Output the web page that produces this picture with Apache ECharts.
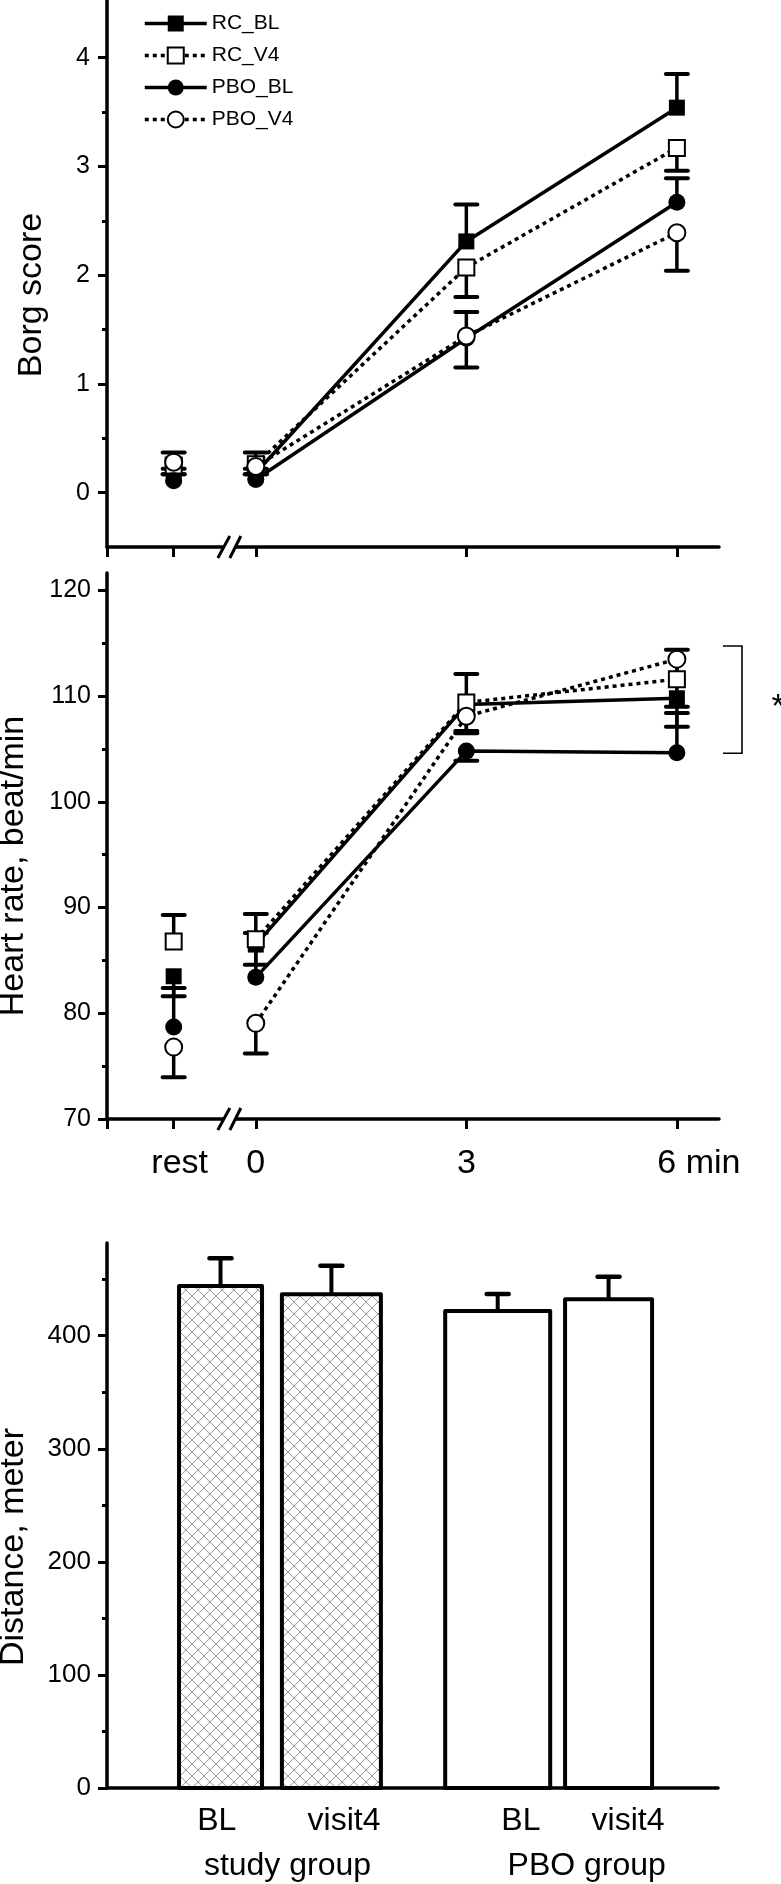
<!DOCTYPE html>
<html><head><meta charset="utf-8">
<script src="https://cdn.jsdelivr.net/npm/echarts@6/dist/echarts.min.js"></script>
<style>html,body{margin:0;padding:0;background:#fff}#c{width:781px;height:1884px}</style>
</head><body><div id="c"></div>
<script>
// ---------------- DATA ----------------
const seriesNames = ['RC_BL', 'RC_V4', 'PBO_BL', 'PBO_V4'];
const timeLabels = ['rest', '0', '3', '6 min'];
const timePos = [-1.17, 0, 3, 6];

const borgRC_BL  = [0.16, 0.18, 2.31, 3.54];
const borgRC_V4  = [0.25, 0.26, 2.07, 3.17];
const borgPBO_BL = [0.11, 0.12, 1.42, 2.67];
const borgPBO_V4 = [0.28, 0.24, 1.44, 2.39];
// signed error bars (+ up, - down)
const borgErrRC_BL  = [0.21, 0.19, 0.34, 0.31];
const borgErrRC_V4  = [-0.08, -0.09, -0.27, -0.21];
const borgErrPBO_BL = [0.11, 0.10, 0.24, 0.22];
const borgErrPBO_V4 = [-0.11, -0.07, -0.29, -0.35];

const hrRC_BL  = [83.5, 86.5, 109.2, 109.8];
const hrRC_V4  = [86.8, 87.0, 109.4, 111.6];
const hrPBO_BL = [78.7, 83.4, 104.8, 104.65];
const hrPBO_V4 = [76.8, 79.05, 108.1, 113.5];
const hrErrRC_BL  = [-1.9, -1.9, -2.5, -2.7];
const hrErrRC_V4  = [2.5, 2.4, 2.7, 2.8];
const hrErrPBO_BL = [3.7, 4.2, -0.9, 3.75];
const hrErrPBO_V4 = [-2.85, -2.85, -1.6, -4.5];

const borgTicks = [0, 1, 2, 3, 4];
const borgMinor = [0.5, 1.5, 2.5, 3.5];
const hrTicks = [70, 80, 90, 100, 110, 120];
const hrMinor = [75, 85, 95, 105, 115];

const barCategories = ['BL', 'visit4', 'BL', 'visit4'];
const barGroups = ['study group', 'PBO group'];
const distance = [444.0, 436.6, 421.9, 432.2];
const distanceErr = [24.5, 25.3, 15.0, 20.0];
const distTicks = [0, 100, 200, 300, 400];
const distMinor = [50, 150, 250, 350, 450];

// significance bracket (heart rate at 6 min)
const sigRange = [104.6, 114.75];
const sigLabel = '*';

// ---------------- LAYOUT / STYLE ----------------
const FONT = '"Liberation Sans", Arial, Helvetica, sans-serif';
const XMIN = -2.12, XMAX = 6.6;
const BREAK_X = -0.37;
const barPos = [1, 2, 3.5, 4.5];
const barLabelPos = [0.966, 2.114, 3.709, 4.675];
const groupLabelPos = [1.604, 4.303];
const BARXMIN = -0.024, BARXMAX = 5.487;
const barWidthsPx = [83, 99, 105, 87];
const barFill = ['hatch', 'hatch', 'white', 'white'];

const symStyle = {
  RC_BL:  {symbol: 'rect',   size: 16, fill: '#000', dash: 'solid'},
  RC_V4:  {symbol: 'rect',   size: 16, fill: '#fff', dash: [4, 4]},
  PBO_BL: {symbol: 'circle', size: 17, fill: '#000', dash: 'solid'},
  PBO_V4: {symbol: 'circle', size: 17, fill: '#fff', dash: [4, 4]}
};

function hatchCanvas() {
  const c = document.createElement('canvas'); c.width = 12; c.height = 12;
  const g = c.getContext('2d');
  g.fillStyle = '#fff'; g.fillRect(0, 0, 12, 12);
  g.strokeStyle = '#9a9a9a'; g.lineWidth = 1;
  g.beginPath(); g.moveTo(0, 0); g.lineTo(12, 12); g.moveTo(12, 0); g.lineTo(0, 12); g.stroke();
  return c;
}
const HATCH = hatchCanvas();

function errRender(params, api) {
  const x = api.value(0), y = api.value(1), e = api.value(2);
  const p0 = api.coord([x, y]), p1 = api.coord([x, y + e]);
  return {type: 'group', children: [
    {type: 'line', shape: {x1: p0[0], y1: p0[1], x2: p1[0], y2: p1[1]}, style: {stroke: '#000', lineWidth: 3.5}},
    {type: 'line', shape: {x1: p1[0] - 11, y1: p1[1], x2: p1[0] + 11, y2: p1[1]}, style: {stroke: '#000', lineWidth: 4, lineCap: 'round'}}
  ]};
}

function barRender(params, api) {
  const i = params.dataIndex;
  const x = api.value(0), y = api.value(1), e = api.value(2);
  const base = api.coord([x, 0]), top = api.coord([x, y]), et = api.coord([x, y + e]);
  const w = barWidthsPx[i];
  const fill = barFill[i] === 'hatch' ? {image: HATCH, repeat: 'repeat'} : '#fff';
  return {type: 'group', children: [
    {type: 'rect', shape: {x: base[0] - w / 2, y: top[1], width: w, height: base[1] - top[1]},
     style: {fill: fill, stroke: '#000', lineWidth: 4, lineJoin: 'round'}},
    {type: 'line', shape: {x1: top[0], y1: top[1], x2: et[0], y2: et[1]}, style: {stroke: '#000', lineWidth: 4}},
    {type: 'line', shape: {x1: et[0] - 11, y1: et[1], x2: et[0] + 11, y2: et[1]}, style: {stroke: '#000', lineWidth: 4.5, lineCap: 'round'}}
  ]};
}

const axisLineStyle = {show: true, onZero: false, lineStyle: {color: '#000', width: 3.5}};

function mainY(grid, min, max, ticks, fs, margin) {
  return {gridIndex: grid, type: 'value', min: min, max: max, position: 'left',
    axisLine: axisLineStyle,
    axisTick: {show: true, customValues: ticks, length: 9, lineStyle: {color: '#000', width: 3}},
    axisLabel: {show: true, customValues: ticks, fontSize: fs, color: '#000', fontFamily: FONT, margin: margin},
    splitLine: {show: false}};
}
function minorY(grid, min, max, ticks) {
  return {gridIndex: grid, type: 'value', min: min, max: max, position: 'left', offset: 0,
    axisLine: {show: false, onZero: false},
    axisTick: {show: true, customValues: ticks, length: 5, lineStyle: {color: '#000', width: 3}},
    axisLabel: {show: false}, splitLine: {show: false}};
}

function timeLabelFmt(v) {
  const i = timePos.indexOf(v);
  const t = i >= 0 ? timeLabels[i] : '';
  if (i === 3) return '{m|' + t + '}';
  if (i === 0) return '{r|' + t + '}';
  return t;
}

function mkLine(arr) {
  const d = timePos.map((x, i) => [x, arr[i]]);
  // rest point stands alone: break the line after it
  d.splice(1, 0, [timePos[0], null]);
  return d;
}
function mkErr(vals, errs) { return timePos.map((x, i) => [x, vals[i], errs[i]]); }

const borgVals = [borgRC_BL, borgRC_V4, borgPBO_BL, borgPBO_V4];
const borgErrs = [borgErrRC_BL, borgErrRC_V4, borgErrPBO_BL, borgErrPBO_V4];
const hrVals = [hrRC_BL, hrRC_V4, hrPBO_BL, hrPBO_V4];
const hrErrs = [hrErrRC_BL, hrErrRC_V4, hrErrPBO_BL, hrErrPBO_V4];

const series = [];
function addPanel(xi, yi, vals, errs) {
  seriesNames.forEach((n, k) => {
    series.push({type: 'custom', name: n + '_err_' + xi, xAxisIndex: xi, yAxisIndex: yi,
      renderItem: errRender, data: mkErr(vals[k], errs[k]), encode: {x: 0, y: 1}, z: 1, silent: true});
  });
  seriesNames.forEach((n, k) => {
    const s = symStyle[n];
    series.push({type: 'line', name: n, xAxisIndex: xi, yAxisIndex: yi, data: mkLine(vals[k]),
      symbol: s.symbol, symbolSize: s.size, showSymbol: true, connectNulls: false, clip: false,
      itemStyle: {color: s.fill, borderColor: '#000', borderWidth: s.fill === '#fff' ? 2 : 0},
      lineStyle: {color: '#000', width: 3.5, type: s.dash},
      emphasis: {disabled: true}, z: 3 + k, silent: true});
  });
}
addPanel(0, 0, borgVals, borgErrs);
addPanel(1, 2, hrVals, hrErrs);
series.push({type: 'custom', name: 'distance', xAxisIndex: 2, yAxisIndex: 4, renderItem: barRender,
  data: barPos.map((x, i) => [x, distance[i], distanceErr[i]]), encode: {x: 0, y: 1}, z: 2, silent: true});

const option = {
  animation: false,
  backgroundColor: '#fff',
  textStyle: {fontFamily: FONT},
  grid: [
    {left: 107, right: 62, top: 0, height: 547},
    {left: 107, right: 62, top: 573, height: 546},
    {left: 107, right: 63, top: 1243, height: 545}
  ],
  legend: {data: seriesNames, orient: 'vertical', left: 138, top: 8, itemWidth: 62, itemHeight: 20,
    itemGap: 11, selectedMode: false, lineStyle: {width: 3.5},
    textStyle: {fontSize: 21, color: '#000', fontFamily: FONT}},
  xAxis: [
    {gridIndex: 0, type: 'value', min: XMIN, max: XMAX, axisLine: axisLineStyle,
      axisTick: {show: true, customValues: [XMIN].concat(timePos), length: 10, lineStyle: {color: '#000', width: 3}},
      axisLabel: {show: false}, splitLine: {show: false}},
    {gridIndex: 1, type: 'value', min: XMIN, max: XMAX, axisLine: axisLineStyle,
      axisTick: {show: true, customValues: [XMIN].concat(timePos), length: 10, lineStyle: {color: '#000', width: 3}},
      axisLabel: {show: true, customValues: timePos, formatter: timeLabelFmt, fontSize: 34, color: '#000',
        fontFamily: FONT, margin: 28,
        rich: {m: {fontSize: 34, fontFamily: FONT, color: '#000', padding: [0, 0, 0, 44]},
               r: {fontSize: 34, fontFamily: FONT, color: '#000', padding: [0, 0, 0, 12]}}},
      splitLine: {show: false}},
    {gridIndex: 2, type: 'value', min: BARXMIN, max: BARXMAX, position: 'bottom', axisLine: axisLineStyle,
      axisTick: {show: false},
      axisLabel: {show: true, customValues: barLabelPos, formatter: v => barCategories[barLabelPos.indexOf(v)] || '',
        fontSize: 32, color: '#000', fontFamily: FONT, margin: 17},
      splitLine: {show: false}},
    {gridIndex: 2, type: 'value', min: BARXMIN, max: BARXMAX, position: 'bottom', offset: 0,
      axisLine: {show: false, onZero: false}, axisTick: {show: false},
      axisLabel: {show: true, customValues: groupLabelPos, formatter: v => barGroups[groupLabelPos.indexOf(v)] || '',
        fontSize: 32, color: '#000', fontFamily: FONT, margin: 62},
      splitLine: {show: false}}
  ],
  yAxis: [
    mainY(0, -0.5, 4.53, borgTicks, 25, 17),
    minorY(0, -0.5, 4.53, borgMinor),
    mainY(1, 70, 121.65, hrTicks, 25, 16),
    minorY(1, 70, 121.65, hrMinor),
    mainY(2, 0, 482, distTicks, 26, 16),
    minorY(2, 0, 482, distMinor)
  ],
  series: series
};

const chart = echarts.init(document.getElementById('c'));
chart.setOption(option);

// ------- annotations (titles, axis breaks, significance bracket) -------
const g = [];
function title(text, x, y) {
  g.push({type: 'text', x: x, y: y, rotation: Math.PI / 2, silent: true,
    style: {text: text, fill: '#000', font: '34px ' + FONT, align: 'center', verticalAlign: 'middle',
      textAlign: 'center', textVerticalAlign: 'middle'}});
}
title('Borg score', 32, 295);
title('Heart rate, beat/min', 14, 866);
title('Distance, meter', 14, 1547);

function brk(xi, yi, ymin) {
  const p = chart.convertToPixel({xAxisIndex: xi, yAxisIndex: yi}, [BREAK_X, ymin]);
  const cx = p[0], cy = p[1];
  g.push({type: 'polygon', silent: true, shape: {points: [[cx - 12, cy + 11], [cx, cy - 11], [cx + 11, cy - 11], [cx, cy + 11]]},
    style: {fill: '#fff', stroke: null}, z: 100});
  g.push({type: 'line', silent: true, shape: {x1: cx - 12, y1: cy + 11, x2: cx, y2: cy - 11}, style: {stroke: '#000', lineWidth: 3}, z: 101});
  g.push({type: 'line', silent: true, shape: {x1: cx, y1: cy + 11, x2: cx + 11, y2: cy - 11}, style: {stroke: '#000', lineWidth: 3}, z: 101});
}
brk(0, 0, -0.5);
brk(1, 2, 70);

const yLo = chart.convertToPixel({yAxisIndex: 2}, sigRange[0]);
const yHi = chart.convertToPixel({yAxisIndex: 2}, sigRange[1]);
const bx = 742, bl = 723;
g.push({type: 'polyline', silent: true, shape: {points: [[bl, yHi], [bx, yHi], [bx, yLo], [bl, yLo]]},
  style: {stroke: '#000', lineWidth: 1.6, fill: null}});
g.push({type: 'text', silent: true, x: 778, y: (yLo + yHi) / 2 + 8,
  style: {text: sigLabel, fill: '#000', font: '34px ' + FONT, align: 'center', verticalAlign: 'middle',
    textAlign: 'center', textVerticalAlign: 'middle'}});

chart.setOption({graphic: g});
</script>
</body></html>
